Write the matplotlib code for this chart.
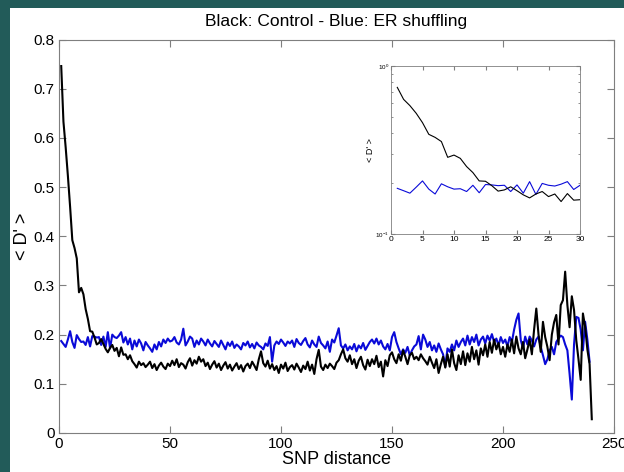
import numpy as np
import matplotlib
matplotlib.use("Agg")
import matplotlib.pyplot as plt
from matplotlib.patches import Rectangle
from matplotlib.ticker import NullFormatter

plt.rcParams['font.family'] = ['Liberation Sans', 'DejaVu Sans']

# <D'> vs SNP distance, control (black) and ER shuffling (blue)
control = [
    0.746, 0.633, 0.581, 0.523, 0.460, 0.392, 0.376, 0.355, 0.286, 0.295,
    0.282, 0.252, 0.232, 0.207, 0.206, 0.194, 0.180, 0.183, 0.191, 0.181,
    0.171, 0.164, 0.173, 0.179, 0.167, 0.173, 0.156, 0.174, 0.159, 0.160,
    0.150, 0.158, 0.146, 0.140, 0.133, 0.145, 0.138, 0.142, 0.134, 0.139,
    0.145, 0.132, 0.140, 0.128, 0.137, 0.143, 0.135, 0.130, 0.141, 0.136,
    0.147, 0.138, 0.150, 0.134, 0.142, 0.139, 0.131, 0.144, 0.152, 0.137,
    0.148, 0.141, 0.155, 0.145, 0.150, 0.136, 0.143, 0.130, 0.139, 0.146,
    0.133, 0.141, 0.128, 0.137, 0.144, 0.131, 0.139, 0.127, 0.135, 0.142,
    0.130, 0.138, 0.125, 0.136, 0.141, 0.132, 0.145, 0.137, 0.128, 0.150,
    0.166, 0.142, 0.135, 0.147, 0.131, 0.140, 0.128, 0.136, 0.122, 0.139,
    0.131, 0.143, 0.126, 0.134, 0.138, 0.129, 0.141, 0.133, 0.124, 0.137,
    0.130, 0.145, 0.127, 0.139, 0.120, 0.150, 0.169, 0.135, 0.128, 0.139,
    0.132, 0.141, 0.136, 0.130, 0.143, 0.148, 0.160, 0.170, 0.152, 0.145,
    0.158, 0.140, 0.150, 0.132, 0.147, 0.155, 0.138, 0.129, 0.149, 0.136,
    0.150, 0.140, 0.157, 0.134, 0.145, 0.115, 0.148, 0.136, 0.158, 0.164,
    0.150, 0.142, 0.160, 0.147, 0.168, 0.155, 0.140, 0.158, 0.163, 0.150,
    0.155, 0.148, 0.160, 0.152, 0.146, 0.139, 0.155, 0.143, 0.132, 0.150,
    0.122, 0.140, 0.155, 0.133, 0.160, 0.135, 0.170, 0.142, 0.128, 0.158,
    0.140, 0.166, 0.138, 0.162, 0.145, 0.175, 0.150, 0.168, 0.139, 0.172,
    0.158, 0.180, 0.155, 0.185, 0.163, 0.190, 0.170, 0.183, 0.160, 0.175,
    0.155, 0.180, 0.165, 0.190, 0.162, 0.196, 0.172, 0.160, 0.185, 0.152,
    0.170, 0.190, 0.160, 0.210, 0.253, 0.200, 0.165, 0.226, 0.195, 0.175,
    0.148, 0.200, 0.225, 0.240, 0.180, 0.260, 0.270, 0.328, 0.260, 0.215,
    0.278, 0.250, 0.189, 0.150, 0.108, 0.243, 0.216, 0.170, 0.140, 0.028,
]
shuffled = [
    0.187, 0.181, 0.175, 0.190, 0.207, 0.185, 0.173, 0.199, 0.191, 0.185,
    0.186, 0.179, 0.195, 0.176, 0.197, 0.196, 0.194, 0.195, 0.179, 0.196,
    0.175, 0.205, 0.172, 0.200, 0.195, 0.193, 0.198, 0.205, 0.184, 0.195,
    0.180, 0.192, 0.170, 0.188, 0.176, 0.190, 0.182, 0.168, 0.185, 0.178,
    0.172, 0.165, 0.180, 0.170, 0.185, 0.176, 0.190, 0.183, 0.192, 0.186,
    0.188, 0.195, 0.184, 0.180, 0.190, 0.212, 0.178, 0.186, 0.196, 0.192,
    0.175, 0.188, 0.180, 0.192, 0.186, 0.178, 0.190, 0.182, 0.176, 0.187,
    0.181, 0.175, 0.188, 0.179, 0.170, 0.184, 0.177, 0.186, 0.173, 0.180,
    0.176, 0.170, 0.183, 0.178, 0.186, 0.174, 0.181, 0.172, 0.184, 0.178,
    0.175, 0.170, 0.182, 0.177, 0.195, 0.145, 0.178, 0.186, 0.181, 0.190,
    0.184, 0.177, 0.186, 0.182, 0.188, 0.175, 0.191, 0.183, 0.179, 0.187,
    0.193, 0.180, 0.174, 0.188, 0.180, 0.175, 0.196, 0.183, 0.178, 0.172,
    0.186, 0.165, 0.190, 0.184, 0.198, 0.213, 0.178, 0.172, 0.180, 0.168,
    0.176, 0.170, 0.181, 0.166, 0.178, 0.172, 0.183, 0.169, 0.177, 0.185,
    0.190, 0.182, 0.192, 0.180, 0.188, 0.176, 0.170, 0.181, 0.168, 0.195,
    0.205, 0.185, 0.172, 0.160, 0.170, 0.163, 0.175, 0.158, 0.168, 0.176,
    0.180, 0.197, 0.170, 0.200, 0.190, 0.175, 0.185, 0.168, 0.178, 0.165,
    0.182, 0.170, 0.160, 0.135, 0.172, 0.165, 0.180, 0.168, 0.188, 0.175,
    0.185, 0.192, 0.178, 0.198, 0.180, 0.195, 0.185, 0.200, 0.178, 0.190,
    0.196, 0.182, 0.198, 0.188, 0.201, 0.185, 0.192, 0.178, 0.195, 0.183,
    0.190, 0.176, 0.195, 0.185, 0.210, 0.230, 0.243, 0.189, 0.172, 0.196,
    0.180, 0.196, 0.188, 0.176, 0.190, 0.196, 0.175, 0.158, 0.140, 0.150,
    0.168, 0.175, 0.160, 0.185, 0.192, 0.198, 0.195, 0.180, 0.168, 0.120,
    0.068, 0.180, 0.236, 0.234, 0.210, 0.168, 0.226, 0.190, 0.145,
]
n_inset = 30

x_ctrl = np.arange(1, len(control) + 1)
x_shuf = np.arange(1, len(shuffled) + 1)

BLUE = "#0a0ad8"
SPINE = "#7f7f7f"

fig = plt.figure(figsize=(6.24, 4.72), dpi=100, facecolor="#225b59")
# white slide panel behind the plot
fig.patches.append(Rectangle((10 / 624, 0), 614 / 624, 464 / 472,
                             transform=fig.transFigure, facecolor="white",
                             edgecolor="none", zorder=-10))

ax = fig.add_axes([59 / 624, 39 / 472, 555 / 624, 393.5 / 472])
ax.plot(x_shuf, shuffled, color=BLUE, lw=1.5)
ax.plot(x_ctrl, control, color="black", lw=1.5)
ax.set_xlim(0, 250)
ax.set_ylim(0, 0.8)
ax.set_xticks(range(0, 251, 50))
ax.set_yticks(np.arange(0, 0.81, 0.1))
ax.set_yticklabels(["0", "0.1", "0.2", "0.3", "0.4", "0.5", "0.6", "0.7", "0.8"])
ax.tick_params(direction="in", top=True, right=True, length=5, labelsize=11,
               color=SPINE, pad=3)
for s in ax.spines.values():
    s.set_color(SPINE)
ax.set_title("Black: Control - Blue: ER shuffling", fontsize=12.5, pad=10)
ax.set_xlabel("SNP distance", fontsize=13, labelpad=0)
ax.set_ylabel("< D' >", fontsize=13, labelpad=2)

# inset: first 30 distances on a log scale
ins = fig.add_axes([391 / 624, 238 / 472, 189 / 624, 168 / 472])
ins.semilogy(x_shuf[:n_inset], shuffled[:n_inset], color=BLUE, lw=0.8)
ins.semilogy(x_ctrl[:n_inset], control[:n_inset], color="black", lw=0.8)
ins.set_xlim(0, 30)
ins.set_ylim(0.1, 1)
ins.set_xticks(range(0, 31, 5))
ins.yaxis.set_minor_formatter(NullFormatter())
ins.tick_params(which="both", direction="in", top=True, right=True,
                color=SPINE, labelsize=6, pad=1.5)
ins.tick_params(which="major", length=3)
ins.tick_params(which="minor", length=1.5)
ins.tick_params(axis="y", labelsize=4.5)
for s in ins.spines.values():
    s.set_color(SPINE)
    s.set_linewidth(0.6)
ins.set_ylabel("< D' >", fontsize=6.5, labelpad=0)

fig.savefig("out.png", dpi=100, facecolor=fig.get_facecolor())
